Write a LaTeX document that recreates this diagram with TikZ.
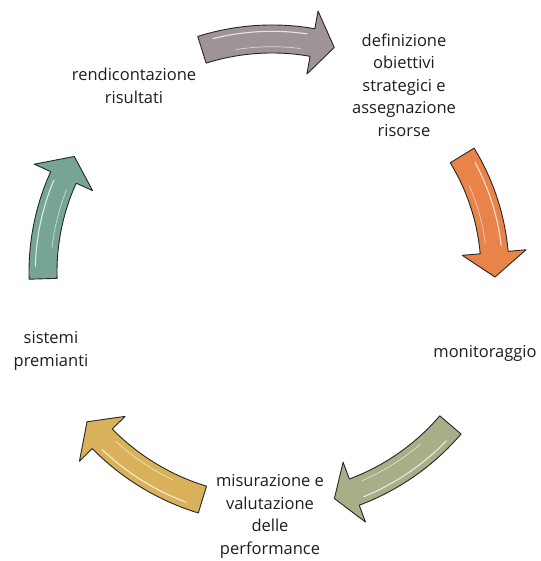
\documentclass[tikz,border=0pt]{standalone}
\usepackage{fontspec}
\setmainfont{Open Sans}
\usetikzlibrary{calc}
\definecolor{cgray}{RGB}{158,148,150}
\definecolor{corange}{RGB}{232,131,74}
\definecolor{cgreen}{RGB}{167,175,137}
\definecolor{cyellow}{RGB}{217,177,90}
\definecolor{cteal}{RGB}{118,165,150}
\definecolor{ctext}{RGB}{30,30,30}
\newcommand{\cyclearrow}[7]{%
  \pgfmathsetmacro{\rO}{#1+#5}%
  \pgfmathsetmacro{\rI}{#1-#5}%
  \pgfmathsetmacro{\rHO}{#1+#6}%
  \pgfmathsetmacro{\rHI}{#1-#6}%
  \pgfmathsetmacro{\gA}{#2+(#3-#2)*0.12}%
  \pgfmathsetmacro{\gB}{#3-(#3-#2)*0.06}%
  \pgfmathsetmacro{\gC}{#2+(#3-#2)*0.3}%
  \pgfmathsetmacro{\gD}{#3-(#3-#2)*0.1}%
  \pgfmathsetmacro{\rGO}{#1+#5*0.55}%
  \pgfmathsetmacro{\rGI}{#1-#5*0.55}%
  \filldraw[arrowbody, fill=#7]
    ($(C)+(#2:\rO)$) arc[start angle=#2, end angle=#3, radius=\rO]
    -- ($(C)+(#3:\rHO)$)
    -- ($(C)+(#4:#1)$)
    -- ($(C)+(#3:\rHI)$)
    -- ($(C)+(#3:\rI)$)
    arc[start angle=#3, end angle=#2, radius=\rI] -- cycle;
  \draw[gloss] ($(C)+(\gA:\rGO)$) arc[start angle=\gA, end angle=\gB, radius=\rGO];
  \draw[gloss, line width=0.7pt, opacity=0.6] ($(C)+(\gC:\rGI)$) arc[start angle=\gC, end angle=\gD, radius=\rGI];
}
\begin{document}
\begin{tikzpicture}[x=1pt, y=1pt,
  arrowbody/.style={draw=black!85, line width=0.9pt, line join=round},
  gloss/.style={draw=white, line width=1.1pt, opacity=0.75, line cap=round},
  lbl/.style={align=center, text=ctext, font=\fontsize{16.5}{22.5}\selectfont, inner sep=0pt}]
\useasboundingbox (0,0) rectangle (540,561);
\fill[white] (0,0) rectangle (540,561);
\coordinate (C) at (272,289);
% arrows (clockwise)
\cyclearrow{233}{107.5}{80}{74.5}{14}{32}{cgray}
\cyclearrow{223}{31.5}{5}{-1.3}{14}{32}{corange}
\cyclearrow{235}{-40.6}{-69.5}{-74.6}{14}{32}{cgreen}
\cyclearrow{238}{-107}{-135.5}{-141}{14}{32}{cyellow}
\cyclearrow{229}{181.7}{155.6}{149.7}{14}{32}{cteal}
% labels
\node[lbl] (t1) at (404,476) {definizione\\obiettivi\\strategici e\\assegnazione\\risorse};
\node[lbl] (t2) at (485,208) {monitoraggio};
\node[lbl] (t3) at (270,44.5) {misurazione e\\valutazione\\delle\\performance};
\node[lbl] (t4) at (51,210) {sistemi\\premianti};
\node[lbl] (t5) at (134,475) {rendicontazione\\risultati};
\end{tikzpicture}
\end{document}
